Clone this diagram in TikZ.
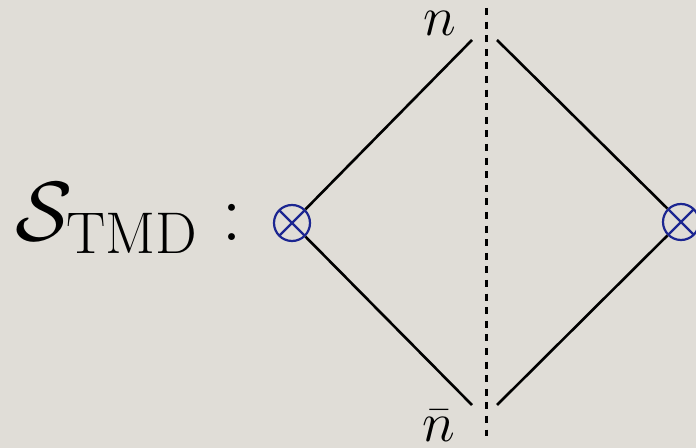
\documentclass[tikz,border=0pt]{standalone}
\usepackage{fix-cm}
\usepackage{amsmath}
\definecolor{bgcol}{RGB}{224,221,215}
\definecolor{vblue}{RGB}{28,38,145}

\begin{document}
\begin{tikzpicture}[
    x=0.5pt, y=-0.5pt,
    wline/.style={draw, line width=1.3pt},
    cutline/.style={draw, line width=1.5pt, dash pattern=on 3.5pt off 3.3pt},
    vtx/.style={circle, draw=vblue, line width=1.1pt, minimum size=18pt,
      inner sep=0pt,
      path picture={\draw[vblue, line width=1.1pt]
        (path picture bounding box.south west) -- (path picture bounding box.north east)
        (path picture bounding box.north west) -- (path picture bounding box.south east);}},
    lbl/.style={font=\fontsize{28}{34}\selectfont},
    big/.style={font=\fontsize{42}{50}\selectfont},
  ]
  \fill[bgcol] (0,0) rectangle (696,448);
  \useasboundingbox (0,0) rectangle (696,448);
  \clip (0,0) rectangle (696,448);

  % soft function label
  \node[big, anchor=base east, inner sep=0pt] (name) at (243,241)
    {$\mathcal{S}_{\mathrm{TMD}}:$};

  % vertices
  \node[vtx] (vl) at (292,223) {};
  \node[vtx] (vr) at (681,222) {};

  % line ends at the cut
  \coordinate (tl) at (472,40);
  \coordinate (bl) at (472,405);
  \coordinate (tr) at (497,40);
  \coordinate (br) at (497,405);
  \coordinate (ctop) at (486,8);
  \coordinate (cbot) at (486,436);

  \draw[wline] (vl) -- (tl);
  \draw[wline] (vl) -- (bl);
  \draw[wline] (vr) -- (tr);
  \draw[wline] (vr) -- (br);
  \draw[cutline] (ctop) -- (cbot);

  % directions
  \node[lbl, anchor=base, inner sep=0pt] (nlab) at (440,36) {$n$};
  \node[lbl, anchor=base, inner sep=0pt] (nblab) at (439,442) {$\bar{n}$};
\end{tikzpicture}
\end{document}
